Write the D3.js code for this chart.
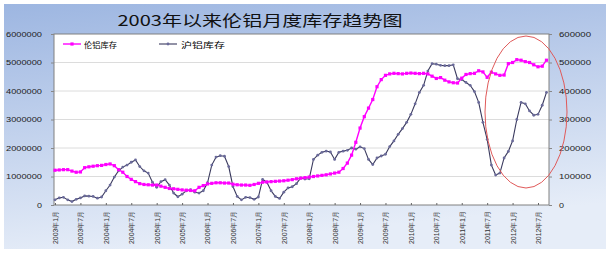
<!DOCTYPE html>
<html>
<head>
<meta charset="utf-8">
<script src="https://cdn.jsdelivr.net/npm/d3@7"></script>
<style>
body{margin:0;background:#fff;}
svg text{font-family:"Liberation Sans",Arial,sans-serif;}
</style>
</head>
<body>
<svg id="chart"></svg>
<script>
// 伦铝库存 (LME, tonnes), monthly from 2003年1月
var lmeStock = [1220000,1230000,1240000,1240000,1190000,1150000,1160000,1310000,1340000,1360000,
  1380000,1390000,1420000,1440000,1380000,1240000,1150000,1000000,900000,820000,
  750000,720000,710000,700000,700000,660000,620000,580000,570000,550000,
  530000,520000,510000,500000,620000,680000,740000,760000,780000,780000,
  770000,770000,730000,710000,700000,700000,690000,720000,760000,800000,
  810000,820000,830000,840000,850000,870000,890000,920000,940000,960000,
  980000,1000000,1020000,1040000,1060000,1090000,1120000,1150000,1280000,1470000,
  1750000,2200000,2700000,3100000,3400000,3700000,4150000,4400000,4550000,4600000,
  4620000,4610000,4600000,4620000,4630000,4620000,4610000,4620000,4600000,4520000,
  4440000,4470000,4380000,4320000,4290000,4280000,4450000,4580000,4610000,4620000,
  4710000,4670000,4480000,4660000,4600000,4550000,4560000,4960000,5000000,5100000,
  5080000,5030000,5000000,4920000,4850000,4870000,5080000]

// 沪铝库存 (SHFE, tonnes), right axis
var shfeStock = [18000,25000,27000,18000,12000,20000,25000,32000,31000,30000,
  24000,28000,50000,70000,98000,120000,133000,140000,150000,158000,
  135000,120000,112000,80000,62000,82000,89000,70000,42000,29000,
  38000,50000,54000,45000,42000,50000,78000,140000,168000,173000,
  171000,135000,65000,30000,18000,27000,26000,20000,28000,90000,
  80000,50000,30000,23000,45000,60000,64000,75000,95000,91000,
  92000,160000,175000,185000,189000,186000,160000,185000,189000,192000,
  200000,196000,204000,198000,160000,142000,165000,172000,178000,205000,
  225000,248000,268000,290000,318000,355000,395000,420000,470000,496000,
  494000,490000,489000,489000,492000,443000,440000,430000,420000,398000,
  360000,290000,230000,140000,105000,112000,165000,188000,225000,300000,
  360000,355000,330000,315000,318000,350000,395000]

var tickLabels = ["2003年1月","2003年7月","2004年1月","2004年7月","2005年1月","2005年7月",
  "2006年1月","2006年7月","2007年1月","2007年7月","2008年1月","2008年7月",
  "2009年1月","2009年7月","2010年1月","2010年7月","2011年1月","2011年7月",
  "2012年1月","2012年7月"]
var leftTicks = [0,1000000,2000000,3000000,4000000,5000000,6000000]
var rightTicks = [0,100000,200000,300000,400000,500000,600000]
var seriesNames = ["伦铝库存","沪铝库存"]
var title = "2003年以来伦铝月度库存趋势图"

var screen = {width:613,height:253}
var plot = {left:54,right:549,top:34,bottom:205}

var svg = d3.select("#chart")
    .attr("width",screen.width)
    .attr("height",screen.height)

// background gradient
var grad = svg.append("defs").append("linearGradient")
    .attr("id","bg").attr("x1",0).attr("y1",0).attr("x2",0.25).attr("y2",1)
grad.append("stop").attr("offset","0%").attr("stop-color","#9db6e1")
grad.append("stop").attr("offset","100%").attr("stop-color","#e6edf8")

svg.append("rect")
    .attr("x",4).attr("y",4).attr("width",602).attr("height",245)
    .attr("fill","url(#bg)")

svg.append("rect")
    .attr("x",plot.left).attr("y",plot.top)
    .attr("width",plot.right-plot.left).attr("height",plot.bottom-plot.top)
    .attr("fill","#fff")

var xScale = d3.scaleLinear()
    .domain([0,114])
    .range([55,538])

var yScale1 = d3.scaleLinear()
    .domain([0,6000000])
    .range([plot.bottom,plot.top])

var yScale2 = d3.scaleLinear()
    .domain([0,600000])
    .range([plot.bottom,plot.top])

// gridlines
svg.append("g")
    .selectAll("line")
    .data(leftTicks.slice(1,-1))
    .enter()
    .append("line")
    .attr("x1",plot.left).attr("x2",plot.right)
    .attr("y1",function(d){return yScale1(d)})
    .attr("y2",function(d){return yScale1(d)})
    .attr("stroke","#dcdcdc")
    .attr("stroke-width",1)

svg.append("rect")
    .attr("x",plot.left).attr("y",plot.top)
    .attr("width",plot.right-plot.left).attr("height",plot.bottom-plot.top)
    .attr("fill","none").attr("stroke","#808080").attr("stroke-width",1)

// axes
var yAxis = d3.axisLeft(yScale1).tickValues(leftTicks).tickFormat(d3.format("d")).tickSize(3)
var gl = svg.append("g")
    .attr("transform","translate("+plot.left+",0)")
    .call(yAxis)
gl.select(".domain").remove()
gl.selectAll("line").attr("stroke","#888").attr("x2",-3)
gl.selectAll("text")
    .attr("x",-12)
    .attr("font-size",7)
    .attr("fill","#222")
    .attr("textLength",function(d){return d==0?5:36})
    .attr("lengthAdjust","spacingAndGlyphs")

var yAxis2 = d3.axisRight(yScale2).tickValues(rightTicks).tickFormat(d3.format("d")).tickSize(3)
var gr = svg.append("g")
    .attr("transform","translate("+plot.right+",0)")
    .call(yAxis2)
gr.select(".domain").remove()
gr.selectAll("line").attr("stroke","#888")
gr.selectAll("text")
    .attr("x",10)
    .attr("font-size",7)
    .attr("fill","#222")
    .attr("textLength",function(d){return d==0?5:32})
    .attr("lengthAdjust","spacingAndGlyphs")

var tickIdx = tickLabels.map(function(d,i){return i*6})
var xAxis = d3.axisBottom(xScale).tickValues(tickIdx)
    .tickFormat(function(d,i){return tickLabels[i]}).tickSize(2)
var gb = svg.append("g")
    .attr("transform","translate(0,"+plot.bottom+")")
    .call(xAxis)
gb.select(".domain").remove()
gb.selectAll("line").attr("stroke","#666").attr("y2",-2)
gb.selectAll("text")
    .attr("transform","rotate(-90)")
    .attr("x",-6).attr("y",0).attr("dy","0.35em")
    .attr("text-anchor","end")
    .attr("font-size",7)
    .attr("fill","#333")
    .attr("textLength",33)
    .attr("lengthAdjust","spacingAndGlyphs")

// lines
var line1 = d3.line()
    .x(function(d,i){return xScale(i)})
    .y(function(d){return yScale1(d)})
var line2 = d3.line()
    .x(function(d,i){return xScale(i)})
    .y(function(d){return yScale2(d)})

svg.append("path")
    .datum(shfeStock)
    .attr("d",line2)
    .attr("fill","none")
    .attr("stroke","#3a3a5e")
    .attr("stroke-width",1.1)

svg.append("g")
    .selectAll("circle")
    .data(shfeStock)
    .enter()
    .append("circle")
    .attr("cx",function(d,i){return xScale(i)})
    .attr("cy",function(d){return yScale2(d)})
    .attr("r",1.4)
    .attr("fill","#6a6a9a")

svg.append("path")
    .datum(lmeStock)
    .attr("d",line1)
    .attr("fill","none")
    .attr("stroke","#ff00ff")
    .attr("stroke-width",1.4)

svg.append("g")
    .selectAll("rect")
    .data(lmeStock)
    .enter()
    .append("rect")
    .attr("x",function(d,i){return xScale(i)-1.6})
    .attr("y",function(d){return yScale1(d)-1.6})
    .attr("width",3.2).attr("height",3.2)
    .attr("fill","#ff00ff")

// red ellipse annotation
svg.append("ellipse")
    .attr("cx",526).attr("cy",112).attr("rx",41).attr("ry",76)
    .attr("fill","none").attr("stroke","#e05a5a").attr("stroke-width",1)

// title
svg.append("text")
    .attr("x",260).attr("y",26)
    .attr("text-anchor","middle")
    .attr("font-size",15)
    .style("font-family","'Noto Sans CJK SC',sans-serif")
    .attr("fill","#111")
    .attr("textLength",285)
    .attr("lengthAdjust","spacingAndGlyphs")
    .text(title)

// legend
var legend = svg.append("g")
legend.append("line").attr("x1",63).attr("x2",81).attr("y1",44).attr("y2",44)
    .attr("stroke","#ff00ff").attr("stroke-width",1.4)
legend.append("rect").attr("x",70.4).attr("y",42.4).attr("width",3.2).attr("height",3.2).attr("fill","#ff00ff")
legend.append("text").attr("x",84).attr("y",47.5).attr("font-size",8)
    .style("font-family","'Noto Sans CJK SC',sans-serif")
    .attr("textLength",33).attr("lengthAdjust","spacingAndGlyphs")
    .text(seriesNames[0])
legend.append("line").attr("x1",159).attr("x2",177).attr("y1",44).attr("y2",44)
    .attr("stroke","#3a3a5e").attr("stroke-width",1.1)
legend.append("circle").attr("cx",168).attr("cy",44).attr("r",1.4).attr("fill","#6a6a9a")
legend.append("text").attr("x",181).attr("y",47.5).attr("font-size",8)
    .style("font-family","'Noto Sans CJK SC',sans-serif")
    .attr("textLength",44).attr("lengthAdjust","spacingAndGlyphs")
    .text(seriesNames[1])
</script>
</body>
</html>
